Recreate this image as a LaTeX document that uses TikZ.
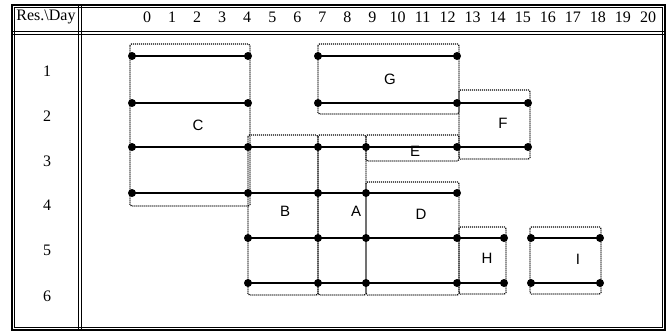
\documentclass[tikz,border=0pt]{standalone}
\usepackage{fontspec}
\setmainfont{Liberation Serif}
\newfontfamily\labfont{Liberation Sans}
\begin{document}
\begin{tikzpicture}[x=1pt,y=-1pt,
  solidline/.style={line width=1.5pt},
  dotbox/.style={line width=1.2pt,dash pattern=on 1pt off 1pt,rounded corners=1.5pt},
  frameline/.style={line width=1pt},
  numtext/.style={font=\fontsize{16}{16}\selectfont,inner sep=0pt},
  tasktext/.style={font=\labfont\fontsize{15}{15}\selectfont,inner sep=0pt},
  pt/.style={circle,fill=black,inner sep=0pt,minimum size=8pt}]
\useasboundingbox (0,0) rectangle (667,333);
% frame
\draw[line width=1.3pt] (12,5) rectangle (665,330);
\draw[line width=0.7pt] (14.5,7.5) rectangle (662.5,327.5);
\draw[frameline] (12,31) -- (665,31);
\draw[frameline] (12,34) -- (665,34);
\draw[frameline] (78,5) -- (78,330);
\draw[frameline] (81,5) -- (81,330);
% header
\node[numtext] (hdr) at (46,17) {Res.\textbackslash Day};
\foreach \d in {0,...,20}
  \node[numtext] (day\d) at ({147+25.05*\d},17) {\d};
% row labels
\foreach \r/\y in {1/71,2/116,3/161,4/205,5/250,6/296}
  \node[numtext] (row\r) at (47,\y) {\r};
% grid coordinates
\foreach \n/\x in {a/132,b/248,c/318,d/366,e/457,f/528,g/504,h/531,i/600}
  \foreach \m/\y in {1/56,2/103,3/147,4/193,5/238,6/283}
    \coordinate (\n\m) at (\x,\y);
% dotted task boxes
\draw[dotbox] (130,44) rectangle (250,206);
\draw[dotbox] (318,44) rectangle (459,114);
\draw[dotbox] (459,90) rectangle (530,159);
\draw[dotbox] (366,135) rectangle (459,161);
\draw[dotbox] (248,135) rectangle (318,295);
\draw[dotbox] (318,135) rectangle (366,295);
\draw[dotbox] (366,182) rectangle (459,295);
\draw[dotbox] (459,227) rectangle (506,294);
\draw[dotbox] (530,227) rectangle (601,294);
% solid lines
\draw[solidline] (a1) -- (b1);
\draw[solidline] (c1) -- (e1);
\draw[solidline] (a2) -- (b2);
\draw[solidline] (c2) -- (e2) -- (f2);
\draw[solidline] (a3) -- (b3) -- (c3) -- (d3) -- (e3) -- (f3);
\draw[solidline] (a4) -- (b4) -- (c4) -- (d4) -- (e4);
\draw[solidline] (b5) -- (c5) -- (d5) -- (e5) -- (g5);
\draw[solidline] (h5) -- (i5);
\draw[solidline] (b6) -- (c6) -- (d6) -- (e6) -- (g6);
\draw[solidline] (h6) -- (i6);
% dots
\foreach \p in {a1,b1,c1,e1,a2,b2,c2,e2,f2,a3,b3,c3,d3,e3,f3,a4,b4,c4,d4,e4,
  b5,c5,d5,e5,g5,h5,i5,b6,c6,d6,e6,g6,h6,i6}
  \node[pt] (dot\p) at (\p) {};
% task labels
\node[tasktext] (tC) at (198,125) {C};
\node[tasktext] (tG) at (390,79) {G};
\node[tasktext] (tF) at (503,123) {F};
\node[tasktext] (tE) at (415,151) {E};
\node[tasktext] (tB) at (285,211) {B};
\node[tasktext] (tA) at (356,211) {A};
\node[tasktext] (tD) at (421,214) {D};
\node[tasktext] (tH) at (487,258) {H};
\node[tasktext] (tI) at (578,259) {I};
\end{tikzpicture}
\end{document}
